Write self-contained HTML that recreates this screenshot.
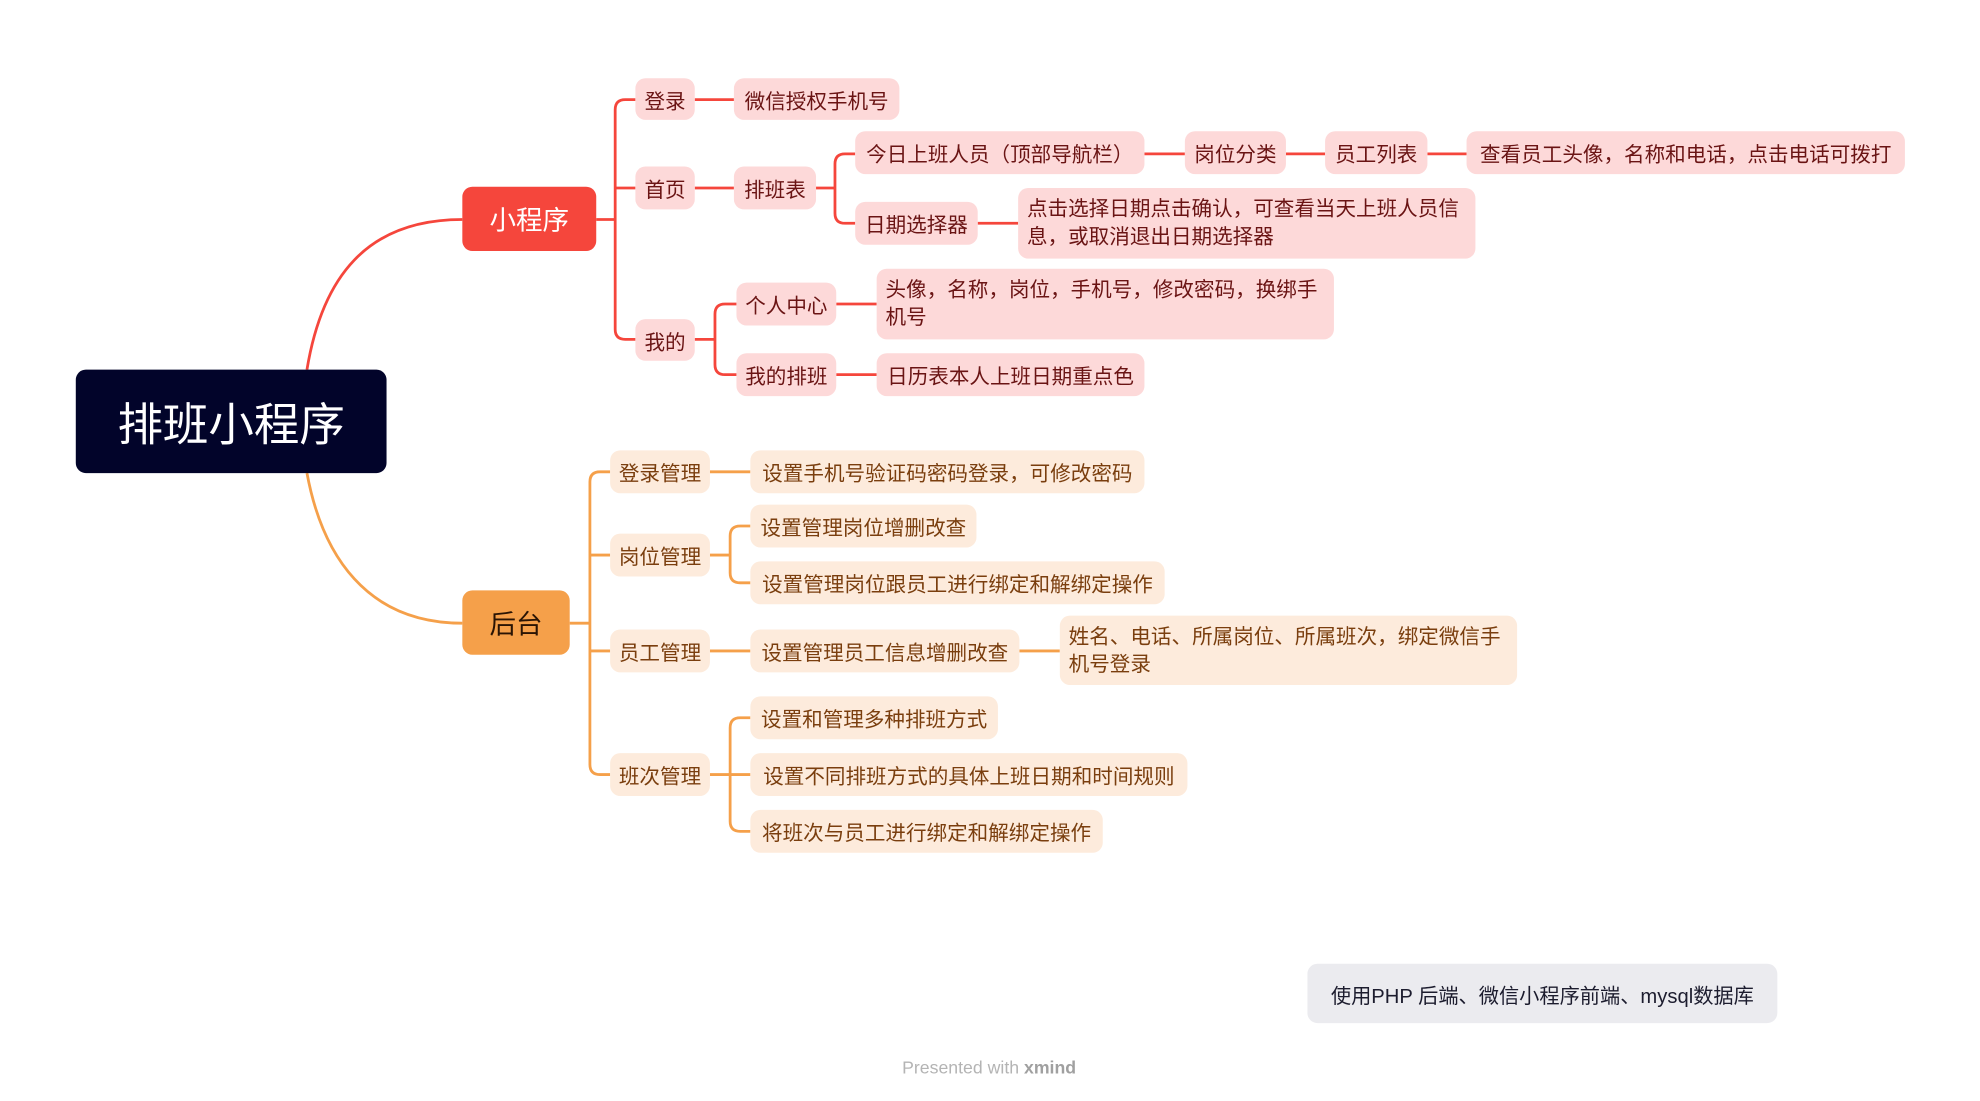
<!DOCTYPE html>
<html><head><meta charset="utf-8"><style>
html,body{margin:0;padding:0;background:#fff;width:1980px;height:1101px;overflow:hidden}
#c{position:absolute;left:0;top:0;width:1560px;height:868px;transform:scale(1.2632,1.2615);transform-origin:0 0;font-family:"Liberation Sans","Noto Sans CJK SC",sans-serif}
.n{position:absolute;box-sizing:border-box;border-radius:8px;display:flex;align-items:center;justify-content:center;font-size:16.3px;white-space:nowrap}
.r{background:#fdd9d9;color:#6a1414}
.o{background:#fdebdc;color:#7a3e0e}
.m{justify-content:flex-start;white-space:normal;padding:0 7px;line-height:22px;text-align:left}
svg{position:absolute;left:0;top:0}
</style></head><body><div id="c">
<svg width="1560" height="868" fill="none" stroke-width="2.2">
<g stroke="#f5463c">
<path d="M243,293 C255,220 290,174 366,174"/>
<path d="M472,174 H487"/>
<path d="M503,79 H495 Q487,79 487,87 V261 Q487,269 495,269 H503"/>
<path d="M487,149 H503"/>
<path d="M550,79 H581 M550,149 H581"/>
<path d="M646,149 H661 M677,122 H669 Q661,122 661,130 V169 Q661,177 669,177 H677"/>
<path d="M906,122 H938 M1018,122 H1049 M1130,122 H1161 M774,177 H806"/>
<path d="M550,269 H566 M583,241 H574 Q566,241 566,249 V289 Q566,297 574,297 H583"/>
<path d="M662,241 H694 M662,297 H694"/>
</g>
<g stroke="#f5a04a">
<path d="M243,375 C255,440 290,494 366,494"/>
<path d="M451,494 H467"/>
<path d="M483,374 H475 Q467,374 467,382 V606 Q467,614 475,614 H483"/>
<path d="M467,440 H483 M467,516 H483"/>
<path d="M562,374 H594 M562,516 H594 M807,516 H839"/>
<path d="M562,440 H578 M594,417 H586 Q578,417 578,425 V454 Q578,462 586,462 H594"/>
<path d="M562,614 H594 M594,569 H586 Q578,569 578,577 V651 Q578,659 586,659 H594"/>
</g>
</svg>
<div class="n" style="left:60px;top:293px;width:246px;height:82px;background:#02042a;color:#fff;font-size:36px">排班小程序</div>
<div class="n" style="left:366px;top:148px;width:106px;height:51px;background:#f5463c;color:#fff;font-size:21px">小程序</div>
<div class="n" style="left:366px;top:468px;width:85px;height:51px;background:#f5a04a;color:#2a1404;font-size:21px">后台</div>

<div class="n r" style="left:503px;top:62px;width:47px;height:33px">登录</div>
<div class="n r" style="left:503px;top:132px;width:47px;height:34px">首页</div>
<div class="n r" style="left:503px;top:253px;width:47px;height:33px">我的</div>
<div class="n r" style="left:581px;top:62px;width:131px;height:33px">微信授权手机号</div>
<div class="n r" style="left:581px;top:132px;width:65px;height:34px">排班表</div>
<div class="n r" style="left:677px;top:104px;width:229px;height:34px">今日上班人员（顶部导航栏）</div>
<div class="n r" style="left:677px;top:160px;width:97px;height:34px">日期选择器</div>
<div class="n r" style="left:938px;top:104px;width:80px;height:34px">岗位分类</div>
<div class="n r" style="left:1049px;top:104px;width:81px;height:34px">员工列表</div>
<div class="n r" style="left:1161px;top:104px;width:347px;height:34px">查看员工头像，名称和电话，点击电话可拨打</div>
<div class="n r m" style="left:806px;top:149px;width:362px;height:56px">点击选择日期点击确认，可查看当天上班人员信息，或取消退出日期选择器</div>
<div class="n r" style="left:583px;top:224px;width:79px;height:34px">个人中心</div>
<div class="n r" style="left:583px;top:280px;width:79px;height:34px">我的排班</div>
<div class="n r m" style="left:694px;top:213px;width:362px;height:56px">头像，名称，岗位，手机号，修改密码，换绑手机号</div>
<div class="n r" style="left:694px;top:280px;width:212px;height:34px">日历表本人上班日期重点色</div>

<div class="n o" style="left:483px;top:357px;width:79px;height:34px">登录管理</div>
<div class="n o" style="left:483px;top:423px;width:79px;height:34px">岗位管理</div>
<div class="n o" style="left:483px;top:499px;width:79px;height:34px">员工管理</div>
<div class="n o" style="left:483px;top:597px;width:79px;height:34px">班次管理</div>
<div class="n o" style="left:594px;top:357px;width:312px;height:34px">设置手机号验证码密码登录，可修改密码</div>
<div class="n o" style="left:594px;top:400px;width:179px;height:34px">设置管理岗位增删改查</div>
<div class="n o" style="left:594px;top:445px;width:328px;height:34px">设置管理岗位跟员工进行绑定和解绑定操作</div>
<div class="n o" style="left:594px;top:499px;width:213px;height:34px">设置管理员工信息增删改查</div>
<div class="n o m" style="left:839px;top:488px;width:362px;height:55px">姓名、电话、所属岗位、所属班次，绑定微信手机号登录</div>
<div class="n o" style="left:594px;top:552px;width:196px;height:34px">设置和管理多种排班方式</div>
<div class="n o" style="left:594px;top:597px;width:346px;height:34px">设置不同排班方式的具体上班日期和时间规则</div>
<div class="n o" style="left:594px;top:642px;width:279px;height:34px">将班次与员工进行绑定和解绑定操作</div>

<div class="n" style="left:1035px;top:764px;width:372px;height:47px;background:#ebebef;color:#1c1c2e;font-size:16px">使用PHP 后端、微信小程序前端、mysql数据库</div>
<div style="position:absolute;left:683px;top:838px;width:200px;text-align:center;font-size:14px;color:#b4b4b4">Presented with <b style="color:#a0a0a0">xmind</b></div>
</div></body></html>
